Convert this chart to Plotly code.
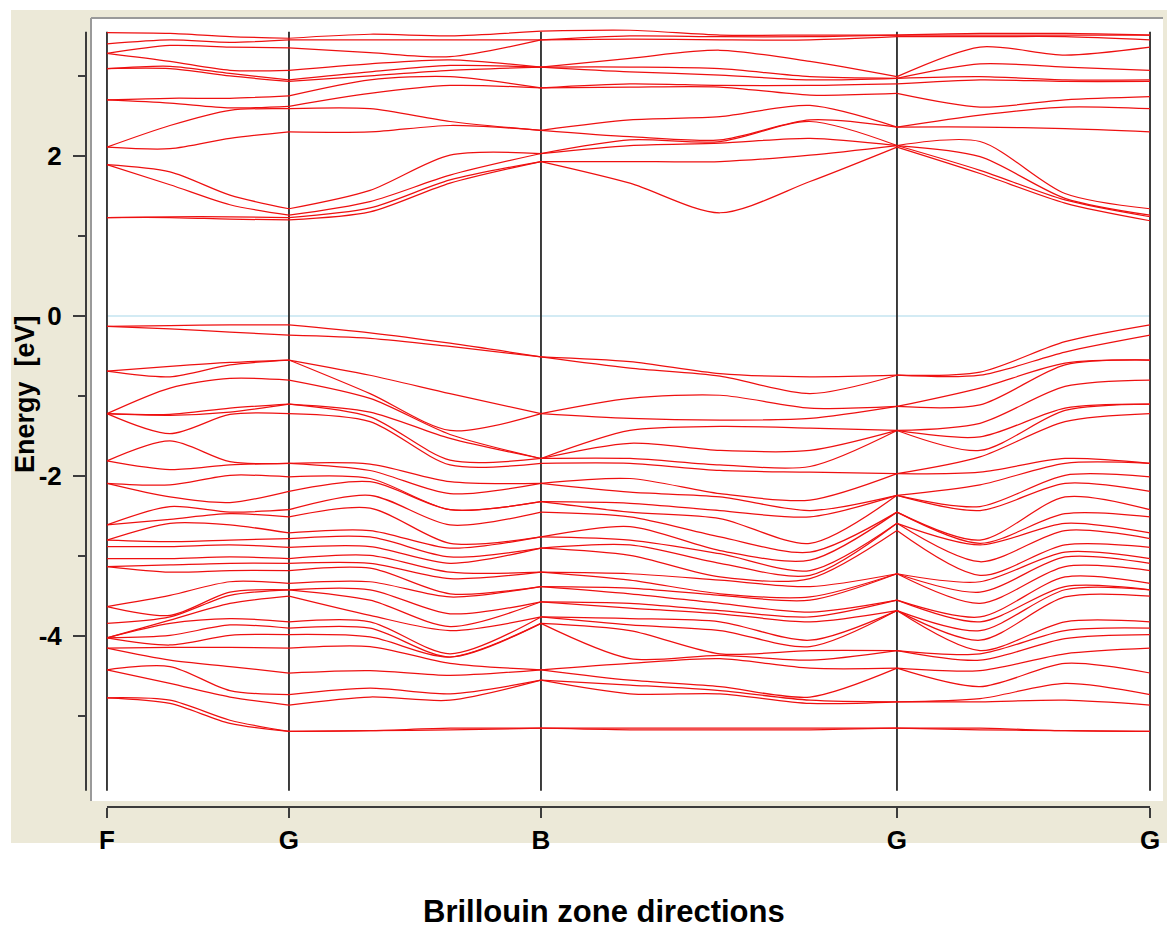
import plotly.graph_objects as go

# ---------------- data ----------------
# k-path coordinate of the sampled points (F -> G -> B -> G -> G)
k_nodes = [0.0, 0.0604, 0.1179, 0.1745, 0.2522, 0.3289, 0.4161,
           0.5014, 0.5877, 0.6740, 0.7574, 0.8370, 0.9185, 1.0]
sym_k = [0.0, 0.1745, 0.4161, 0.7574, 1.0]
sym_labels = ["F", "G", "B", "G", "G"]
segments = [(0, 3), (3, 6), (6, 10), (10, 13)]

# valence band energies (eV) at each k node, highest first
v_k00 = [-0.13,-0.13,-0.69,-0.69,-1.22,-1.22,-1.22,-1.22,-1.81,-1.81,-2.09,-2.09,-2.61,-2.61,-2.80,-2.80,-2.88,-3.03,-3.13,-3.13,-3.63,-3.63,-3.84,-4.02,-4.02,-4.02,-4.02,-4.15,-4.15,-4.42,-4.42,-4.77,-4.77]
v_k01 = [-0.12,-0.16,-0.63,-0.76,-0.90,-1.23,-1.24,-1.47,-1.56,-1.92,-2.11,-2.26,-2.38,-2.54,-2.59,-2.82,-2.88,-3.03,-3.11,-3.20,-3.49,-3.74,-3.76,-3.80,-3.84,-3.99,-4.11,-4.14,-4.30,-4.38,-4.59,-4.80,-4.84]
v_k02 = [-0.11,-0.20,-0.58,-0.61,-0.78,-1.15,-1.20,-1.23,-1.82,-1.86,-1.99,-2.33,-2.45,-2.47,-2.61,-2.80,-2.86,-3.01,-3.09,-3.18,-3.32,-3.45,-3.49,-3.59,-3.78,-3.86,-3.99,-4.14,-4.38,-4.68,-4.76,-5.05,-5.09]
v_k03 = [-0.11,-0.24,-0.55,-0.55,-0.80,-1.10,-1.10,-1.22,-1.84,-1.84,-2.01,-2.19,-2.42,-2.51,-2.71,-2.78,-2.89,-3.03,-3.09,-3.18,-3.34,-3.42,-3.42,-3.50,-3.82,-3.90,-3.98,-4.15,-4.46,-4.73,-4.86,-5.19,-5.19]
v_k04 = [-0.21,-0.28,-0.74,-0.97,-1.03,-1.20,-1.26,-1.32,-1.85,-1.93,-2.03,-2.07,-2.24,-2.40,-2.68,-2.76,-2.88,-2.99,-3.09,-3.15,-3.32,-3.42,-3.55,-3.74,-3.82,-3.90,-4.01,-4.13,-4.43,-4.65,-4.76,-5.18,-5.18]
v_k05 = [-0.34,-0.38,-0.97,-1.43,-1.48,-1.53,-1.80,-1.86,-2.07,-2.22,-2.42,-2.42,-2.61,-2.84,-2.90,-3.01,-3.09,-3.20,-3.28,-3.47,-3.51,-3.72,-3.88,-3.93,-4.22,-4.26,-4.26,-4.34,-4.49,-4.72,-4.80,-5.15,-5.17]
v_k06 = [-0.51,-0.51,-1.22,-1.22,-1.78,-1.78,-1.78,-1.84,-2.09,-2.09,-2.32,-2.32,-2.45,-2.76,-2.76,-2.90,-2.90,-3.20,-3.20,-3.38,-3.38,-3.57,-3.57,-3.76,-3.76,-3.84,-3.84,-4.42,-4.42,-4.55,-4.55,-5.15,-5.15]
v_k07 = [-0.57,-0.65,-1.03,-1.28,-1.43,-1.59,-1.78,-1.84,-2.03,-2.20,-2.34,-2.45,-2.51,-2.63,-2.80,-2.86,-2.99,-3.22,-3.30,-3.40,-3.47,-3.59,-3.65,-3.78,-3.86,-3.93,-4.28,-4.34,-4.55,-4.61,-4.72,-5.15,-5.17]
v_k08 = [-0.72,-0.75,-0.99,-1.30,-1.38,-1.68,-1.86,-1.93,-2.22,-2.26,-2.43,-2.53,-2.76,-2.93,-2.97,-3.09,-3.26,-3.30,-3.47,-3.49,-3.59,-3.68,-3.72,-3.82,-3.93,-4.22,-4.24,-4.28,-4.63,-4.68,-4.72,-5.15,-5.17]
v_k09 = [-0.76,-0.97,-1.15,-1.28,-1.40,-1.68,-1.88,-1.95,-2.30,-2.43,-2.51,-2.84,-2.95,-3.05,-3.18,-3.24,-3.28,-3.38,-3.51,-3.55,-3.70,-3.76,-3.82,-4.05,-4.13,-4.18,-4.30,-4.40,-4.76,-4.80,-4.84,-5.15,-5.17]
v_k10 = [-0.74,-0.74,-1.13,-1.13,-1.43,-1.43,-1.43,-1.97,-1.97,-2.24,-2.24,-2.24,-2.45,-2.45,-2.59,-2.59,-2.68,-3.22,-3.22,-3.22,-3.55,-3.55,-3.68,-3.68,-3.68,-4.18,-4.18,-4.40,-4.40,-4.82,-4.82,-5.15,-5.15]
v_k11 = [-0.70,-0.74,-0.90,-1.11,-1.34,-1.51,-1.68,-1.76,-1.95,-2.11,-2.38,-2.43,-2.80,-2.84,-2.86,-3.07,-3.24,-3.32,-3.45,-3.59,-3.76,-3.82,-3.93,-4.05,-4.18,-4.22,-4.30,-4.43,-4.63,-4.78,-4.82,-5.15,-5.17]
v_k12 = [-0.32,-0.45,-0.59,-0.61,-0.88,-1.15,-1.18,-1.32,-1.78,-1.84,-1.99,-2.09,-2.26,-2.47,-2.59,-2.68,-2.86,-2.95,-3.01,-3.13,-3.26,-3.38,-3.42,-3.51,-3.82,-3.93,-4.03,-4.22,-4.34,-4.59,-4.80,-5.18,-5.18]
v_k13 = [-0.11,-0.24,-0.55,-0.55,-0.80,-1.10,-1.10,-1.22,-1.84,-1.84,-2.01,-2.19,-2.42,-2.51,-2.71,-2.78,-2.89,-3.03,-3.09,-3.18,-3.34,-3.42,-3.42,-3.50,-3.82,-3.90,-3.98,-4.15,-4.46,-4.73,-4.86,-5.19,-5.19]

# conduction band energies (eV) at each k node, lowest first
c_k00 = [1.23, 1.23, 1.89, 1.89, 2.11, 2.11, 2.70, 2.70, 3.09, 3.09, 3.28, 3.28, 3.40, 3.54]
c_k01 = [1.23, 1.24, 1.64, 1.80, 2.09, 2.38, 2.66, 2.72, 3.09, 3.12, 3.18, 3.38, 3.45, 3.53]
c_k02 = [1.21, 1.24, 1.39, 1.51, 2.22, 2.57, 2.60, 2.72, 3.00, 3.03, 3.07, 3.36, 3.42, 3.49]
c_k03 = [1.20, 1.23, 1.26, 1.34, 2.30, 2.59, 2.62, 2.75, 2.93, 2.95, 3.07, 3.35, 3.45, 3.47]
c_k04 = [1.30, 1.35, 1.43, 1.57, 2.30, 2.59, 2.78, 2.95, 3.00, 3.05, 3.15, 3.29, 3.45, 3.52]
c_k05 = [1.66, 1.70, 1.76, 2.01, 2.38, 2.43, 2.88, 2.99, 3.07, 3.13, 3.20, 3.24, 3.45, 3.50]
c_k06 = [1.93, 1.93, 2.03, 2.03, 2.32, 2.32, 2.85, 2.85, 3.11, 3.11, 3.11, 3.45, 3.45, 3.56]
c_k07 = [1.66, 1.93, 2.13, 2.20, 2.24, 2.45, 2.86, 2.90, 3.05, 3.11, 3.22, 3.46, 3.50, 3.57]
c_k08 = [1.29, 1.93, 2.16, 2.18, 2.20, 2.49, 2.86, 2.88, 3.01, 3.09, 3.32, 3.45, 3.49, 3.51]
c_k09 = [1.68, 2.01, 2.22, 2.43, 2.45, 2.63, 2.76, 2.88, 2.95, 2.99, 3.18, 3.45, 3.49, 3.51]
c_k10 = [2.11, 2.13, 2.13, 2.13, 2.36, 2.36, 2.78, 2.90, 2.97, 2.97, 2.99, 3.49, 3.51, 3.51]
c_k11 = [1.78, 1.82, 1.99, 2.18, 2.36, 2.51, 2.61, 2.95, 2.99, 3.15, 3.36, 3.49, 3.51, 3.53]
c_k12 = [1.41, 1.45, 1.47, 1.53, 2.34, 2.61, 2.70, 2.93, 2.95, 3.11, 3.26, 3.49, 3.51, 3.53]
c_k13 = [1.19, 1.24, 1.26, 1.34, 2.30, 2.59, 2.74, 2.93, 2.95, 3.07, 3.36, 3.45, 3.51, 3.51]

y_tick_vals = [-4, -2, 0, 2]
y_tick_text = ["-4", "-2", "0", "2"]
y_minor_vals = [-5, -3, -1, 1, 3]
axis_bottom, axis_top = -5.93, 3.55
y_range = [-6.134, 3.698]
x_range = [-0.0201, 1.0019]

valence_nodes = [v_k00, v_k01, v_k02, v_k03, v_k04, v_k05, v_k06,
                 v_k07, v_k08, v_k09, v_k10, v_k11, v_k12, v_k13]
conduction_nodes = [c_k00, c_k01, c_k02, c_k03, c_k04, c_k05, c_k06,
                    c_k07, c_k08, c_k09, c_k10, c_k11, c_k12, c_k13]


def band_xy(node_lists):
    xs, ys = [], []
    nb = len(node_lists[0])
    for b in range(nb):
        for i0, i1 in segments:
            for i in range(i0, i1 + 1):
                xs.append(k_nodes[i])
                ys.append(node_lists[i][b])
            xs.append(None)
            ys.append(None)
    return xs, ys


# ---------------- figure ----------------
W, H = 1167, 928
ML, MR, MT, MB = 86, 15, 20, 121
PW, PH = W - ML - MR, H - MT - MB


def px_x(p):
    return (p - ML) / PW


def px_y(p):
    return (H - MB - p) / PH


RED = "rgb(238,16,16)"
AX = "#3c3c3c"
FONT = "Liberation Sans, Arial, Helvetica, sans-serif"

fig = go.Figure()
for nodes in (valence_nodes, conduction_nodes):
    xs, ys = band_xy(nodes)
    fig.add_trace(go.Scatter(x=xs, y=ys, mode="lines",
                             line=dict(color=RED, width=1.25, shape="spline", smoothing=0.8),
                             hoverinfo="skip", showlegend=False))

shapes = [
    # beige window background
    dict(type="rect", xref="paper", yref="paper", x0=px_x(11), x1=px_x(1167),
         y0=px_y(843), y1=px_y(10), fillcolor="#ECE9D8", line=dict(width=0), layer="below"),
    # white plotting panel
    dict(type="rect", xref="paper", yref="paper", x0=px_x(91), x1=px_x(1163),
         y0=px_y(801), y1=px_y(17), fillcolor="white", line=dict(width=0), layer="below"),
    dict(type="line", xref="paper", yref="paper", x0=px_x(91), x1=px_x(1163),
         y0=px_y(18), y1=px_y(18), line=dict(color="#9a9a9a", width=2), layer="below"),
    dict(type="line", xref="paper", yref="paper", x0=px_x(91), x1=px_x(91),
         y0=px_y(801), y1=px_y(18), line=dict(color="#9a9a9a", width=2), layer="below"),
    # y axis line
    dict(type="line", xref="paper", yref="y", x0=0, x1=0, y0=axis_bottom, y1=axis_top,
         line=dict(color=AX, width=2)),
    # x axis line
    dict(type="line", xref="x", yref="paper", x0=sym_k[0], x1=sym_k[-1], y0=0, y1=0,
         line=dict(color=AX, width=2)),
    # Fermi level
    dict(type="line", xref="x", yref="y", x0=sym_k[0], x1=sym_k[-1], y0=0, y1=0,
         line=dict(color="#a8d8ea", width=1.2), layer="below"),
]
for k in sym_k:
    shapes.append(dict(type="line", xref="x", yref="y", x0=k, x1=k, y0=axis_bottom, y1=axis_top,
                       line=dict(color="#2a2a2a", width=1.8), layer="below"))

fig.update_layout(
    width=W, height=H, autosize=False,
    margin=dict(l=ML, r=MR, t=MT, b=MB, pad=0, autoexpand=False),
    paper_bgcolor="white", plot_bgcolor="rgba(0,0,0,0)",
    showlegend=False,
    shapes=shapes,
    annotations=[
        dict(text="Brillouin zone directions", xref="paper", yref="paper",
             x=px_x(604), y=px_y(911), xanchor="center", yanchor="middle", showarrow=False,
             font=dict(family=FONT, size=31, color="black", weight="bold")),
        dict(text="Energy\u00a0 [eV]", xref="paper", yref="paper", textangle=-90,
             x=px_x(25), y=px_y(394), xanchor="center", yanchor="middle", showarrow=False,
             font=dict(family=FONT, size=27, color="black", weight="bold")),
    ],
)
fig.update_xaxes(range=x_range, tickmode="array", tickvals=sym_k, ticktext=sym_labels,
                 ticks="outside", ticklen=10, tickwidth=2, tickcolor=AX,
                 showline=False, showgrid=False, zeroline=False, automargin=False,
                 tickfont=dict(family=FONT, size=26, color="black", weight="bold"))
fig.update_yaxes(range=y_range, tickmode="array", tickvals=y_tick_vals, ticktext=y_tick_text,
                 ticks="outside", ticklen=12, tickwidth=2, tickcolor=AX,
                 minor=dict(tickmode="array", tickvals=y_minor_vals, ticks="outside",
                            ticklen=7, tickwidth=2, tickcolor=AX, showgrid=False),
                 ticklabelstandoff=6, automargin=False,
                 showline=False, showgrid=False, zeroline=False,
                 tickfont=dict(family=FONT, size=26, color="black", weight="bold"))

fig.write_html("out.html", config={"displayModeBar": False},
               post_script="document.body.style.margin='0';document.body.style.overflow='hidden';")
